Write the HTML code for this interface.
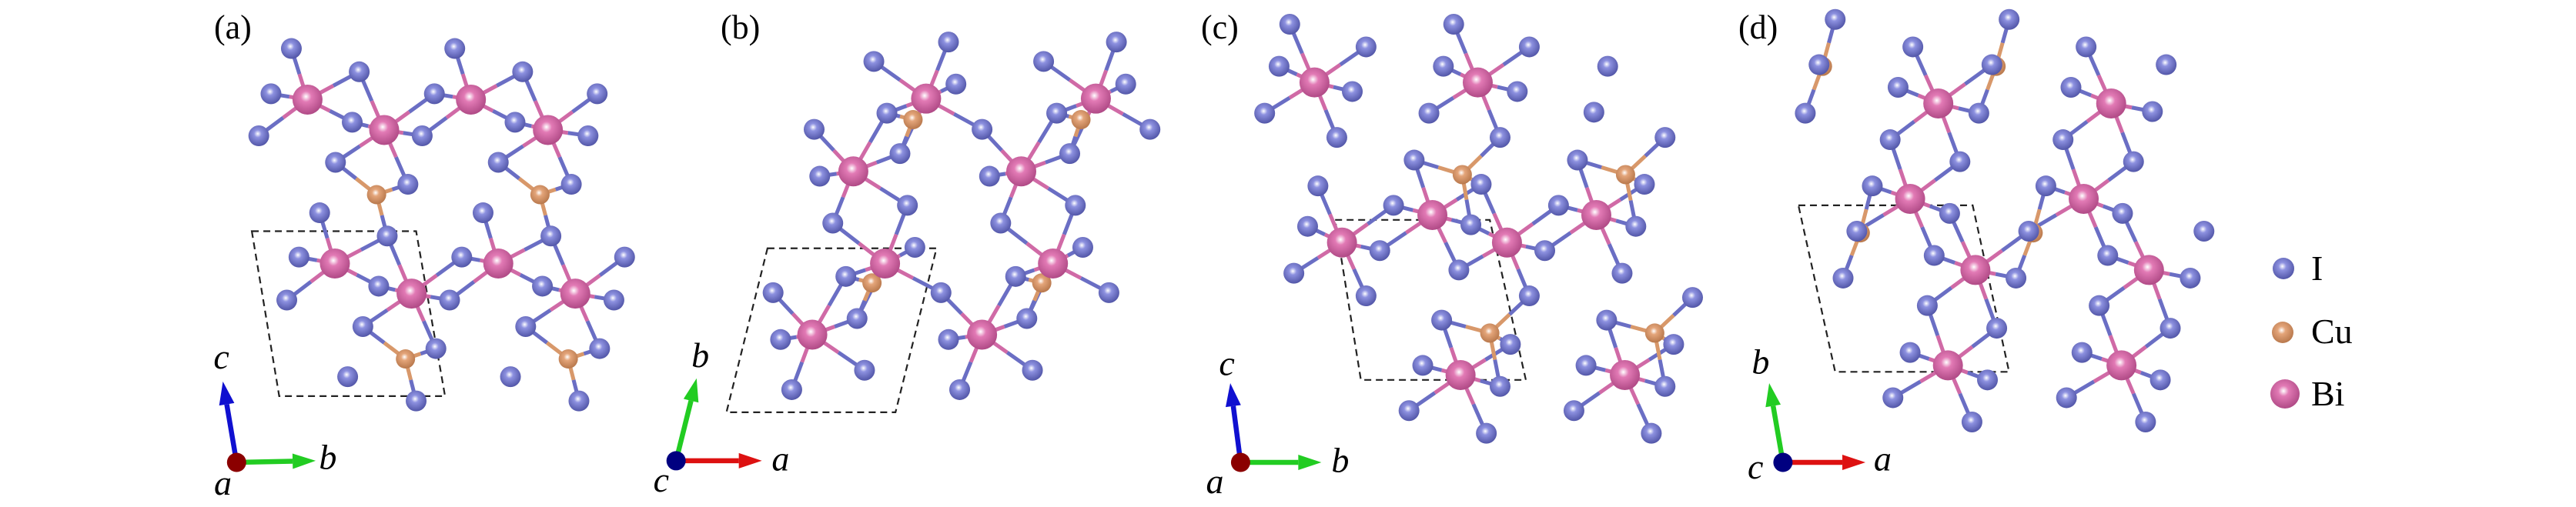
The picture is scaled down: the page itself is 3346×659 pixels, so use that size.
<!DOCTYPE html>
<html><head><meta charset="utf-8"><style>
html,body{margin:0;padding:0;background:#fff;width:3346px;height:659px;overflow:hidden}
svg{display:block}
text{font-family:"Liberation Serif",serif;fill:#000}
</style></head><body>
<svg id="s" width="3346" height="659" viewBox="0 0 3346 659" xmlns="http://www.w3.org/2000/svg">
<defs>
<radialGradient id="gI" cx="0.45" cy="0.4" r="0.6"><stop offset="0" stop-color="#fff"/><stop offset="0.3" stop-color="#8d91e0"/><stop offset="1" stop-color="#5256a8"/></radialGradient>
<radialGradient id="gB" cx="0.45" cy="0.4" r="0.6"><stop offset="0" stop-color="#fff"/><stop offset="0.3" stop-color="#e27ab5"/><stop offset="1" stop-color="#b04a86"/></radialGradient>
<radialGradient id="gC" cx="0.45" cy="0.4" r="0.6"><stop offset="0" stop-color="#fff"/><stop offset="0.3" stop-color="#e4a57a"/><stop offset="1" stop-color="#b8784c"/></radialGradient>
</defs>
<text x="278" y="50" font-size="44">(a)</text>
<text x="936" y="50" font-size="44">(b)</text>
<text x="1560" y="50" font-size="44">(c)</text>
<text x="2258" y="50" font-size="44">(d)</text>
<circle cx="2966" cy="349" r="14" fill="url(#gI)"/>
<circle cx="2965" cy="432" r="14" fill="url(#gC)"/>
<circle cx="2968" cy="512" r="19" fill="url(#gB)"/>
<text x="3002" y="364" font-size="46">I</text>
<text x="3002" y="446" font-size="46">Cu</text>
<text x="3002" y="527" font-size="46">Bi</text>
<g id="pa"></g><g id="pb"></g><g id="pc"></g><g id="pd"></g>
</svg>
<script>
var NS="http://www.w3.org/2000/svg";
function el(g,t,a){var e=document.createElementNS(NS,t);for(var k in a)e.setAttribute(k,a[k]);g.appendChild(e);return e;}
var FY=1568/659;
var P=[
{id:"pa",ox:250,f:2.53,rI:33,rB:48,rC:32,tB:205,tC:175,
I:[[325,150],[548,222],[258,290],[218,420],[525,378],[755,420],[795,290],[862,150],[1085,222],[1330,290],[1060,378],[1300,420],[470,502],[708,570],[1005,502],[1245,570],[418,658],[640,730],[955,658],[1178,730],[350,795],[310,928],[612,885],[845,928],[885,795],[1150,885],[1420,795],[1385,928],[560,1010],[800,1078],[1095,1010],[1338,1078],[510,1165],[735,1240],[1045,1165],[1270,1240]],
B:[[378,308],[630,402],[915,308],[1168,402],[468,815],[720,908],[1005,815],[1258,908]],
C:[[605,602],[1142,602],[700,1110],[1235,1110]],
cell:[[195,715],[735,715],[830,1225],[285,1225]],
ax:{o:[145,1430],u:[100,1180],r:[405,1425],oc:"#8b0000",uc:"#1010d0",rc:"#22cc22"},
lab:[["c",95,1140],["b",445,1450],["a",100,1530]]},
{id:"pb",ox:820,f:1568/760,rI:30,rB:45,rC:30,tB:205,tC:150,
I:[[650,190],[850,130],[870,260],[685,350],[720,475],[490,400],[505,545],[940,400],[740,635],[540,690],[1105,190],[1300,130],[1325,260],[1140,350],[1175,475],[1390,400],[960,545],[1190,635],[990,690],[760,765],[575,855],[380,905],[605,985],[400,1050],[625,1145],[430,1205],[830,905],[850,1050],[1210,765],[1030,855],[1280,905],[1060,985],[1075,1145],[880,1205]],
B:[[790,305],[1245,305],[595,530],[1045,530],[680,815],[1130,815],[485,1035],[940,1035]],
C:[[755,370],[1205,370],[645,875],[1100,875]],
cell:[[365,768],[818,768],[708,1275],[255,1275]],
ax:{o:[120,1425],u:[175,1170],r:[350,1425],oc:"#000080",uc:"#22cc22",rc:"#dd1111"},
lab:[["b",185,1135],["a",400,1455],["c",80,1520]]},
{id:"pc",ox:1540,f:1568/700,rI:32,rB:46,rC:30,tB:205,tC:170,
I:[[303,75],[525,145],[272,205],[485,283],[230,350],[440,425],[780,75],[1000,145],[750,205],[965,283],[708,350],[915,425],[1228,205],[1188,347],[665,495],[860,570],[385,575],[605,635],[355,700],[565,775],[315,845],[525,915],[830,695],[795,835],[1000,915],[1140,495],[1395,425],[1335,570],[1085,635],[1310,700],[1045,775],[1270,845],[745,990],[945,1065],[690,1130],[915,1195],[650,1270],[875,1340],[1225,990],[1475,920],[1420,1065],[1165,1130],[1395,1195],[1130,1270],[1355,1340]],
B:[[375,255],[850,255],[455,750],[718,665],[935,750],[1195,665],[800,1160],[1278,1160]],
C:[[805,540],[1280,540],[885,1030],[1365,1030]],
cell:[[435,680],[885,680],[990,1175],[510,1175]],
ax:{o:[160,1430],u:[130,1185],r:[395,1430],oc:"#8b0000",uc:"#1010d0",rc:"#22cc22"},
lab:[["c",120,1160],["b",450,1460],["a",85,1525]]},
{id:"pd",ox:2240,f:1568/700,rI:32,rB:46,rC:28,tB:200,tC:160,
I:[[322,60],[275,200],[235,350],[828,60],[778,200],[740,350],[548,145],[505,270],[482,432],[685,500],[1052,145],[1008,270],[1245,345],[1285,200],[985,432],[1190,500],[430,575],[385,715],[345,860],[655,660],[610,790],[848,860],[935,575],[885,715],[1158,660],[1115,790],[1395,715],[1355,860],[590,945],[792,1015],[540,1090],[490,1230],[765,1175],[720,1305],[1090,945],[1297,1015],[1040,1090],[995,1230],[1268,1175],[1225,1305]],
B:[[622,320],[1125,320],[540,615],[1045,615],[730,835],[1235,835],[650,1130],[1155,1130]],
C:[[285,205],[790,205],[395,720],[898,720]],
cell:[[215,635],[722,635],[828,1150],[322,1150]],
ax:{o:[170,1430],u:[130,1185],r:[410,1430],oc:"#000080",uc:"#22cc22",rc:"#dd1111"},
lab:[["b",105,1155],["a",460,1455],["c",90,1480]]}
];
function d(a,b){return Math.hypot(a[0]-b[0],a[1]-b[1]);}
P.forEach(function(p){
 var g=document.getElementById(p.id);
 function T(q){return [p.ox+q[0]/p.f, q[1]/FY];}
 var bw=5;
 var c=p.cell.map(T);
 el(g,"polygon",{points:c.map(function(q){return q.join(",")}).join(" "),fill:"none",stroke:"#222","stroke-width":2.2,"stroke-dasharray":"9,6"});
 function bond(a0,b0,col){var a=T(a0),b=T(b0),m=[(a[0]+b[0])/2,(a[1]+b[1])/2];
  el(g,"line",{x1:a[0],y1:a[1],x2:m[0],y2:m[1],stroke:col,"stroke-width":bw});
  el(g,"line",{x1:m[0],y1:m[1],x2:b[0],y2:b[1],stroke:"#6a6ec4","stroke-width":bw});}
 p.B.forEach(function(b){p.I.forEach(function(i){if(d(b,i)<p.tB)bond(b,i,"#d06aa6");});});
 p.C.forEach(function(b){p.I.forEach(function(i){if(d(b,i)<p.tC&&d(b,i)>20)bond(b,i,"#d8986a");});});
 p.C.forEach(function(q0){var q=T(q0);el(g,"circle",{cx:q[0],cy:q[1],r:12.5,fill:"url(#gC)"});});
 p.I.forEach(function(q0){var q=T(q0);el(g,"circle",{cx:q[0],cy:q[1],r:13.5,fill:"url(#gI)"});});
 p.B.forEach(function(q0){var q=T(q0);el(g,"circle",{cx:q[0],cy:q[1],r:19.5,fill:"url(#gB)"});});
 var a=p.ax,o=T(a.o);
 function arrow(t0,col){var t=T(t0),dx=t[0]-o[0],dy=t[1]-o[1],L=Math.hypot(dx,dy),ux=dx/L,uy=dy/L,hl=30,hw=10;
  var bx=t[0]-ux*hl,by=t[1]-uy*hl;
  el(g,"line",{x1:o[0],y1:o[1],x2:bx,y2:by,stroke:col,"stroke-width":6.5});
  el(g,"polygon",{points:[t[0],t[1],bx-uy*hw,by+ux*hw,bx+uy*hw,by-ux*hw].join(","),fill:col});}
 arrow(a.u,a.uc);arrow(a.r,a.rc);
 el(g,"circle",{cx:o[0],cy:o[1],r:12.5,fill:a.oc});
 p.lab.forEach(function(l){var q=T([l[1],l[2]]);var t=el(g,"text",{x:q[0],y:q[1],"font-size":46,"font-style":"italic","text-anchor":"middle"});t.textContent=l[0];});
});
</script>
</body></html>
